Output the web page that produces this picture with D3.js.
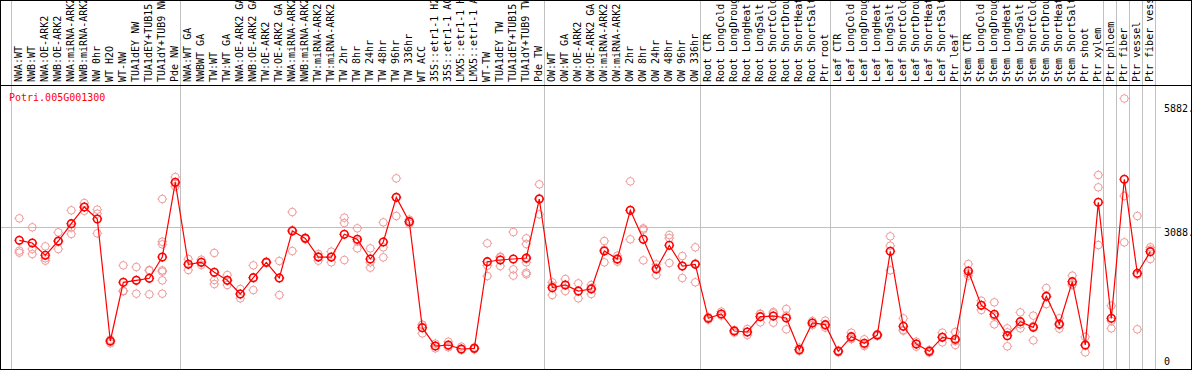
<!DOCTYPE html>
<html>
<head>
<meta charset="utf-8">
<script src="https://cdn.jsdelivr.net/npm/d3@7"></script>
<style>
  body { margin: 0; background: #fff; }
  text { font-family: "DejaVu Sans Mono", monospace; font-size: 10px; }
</style>
</head>
<body>
<div class="chart"></div>
<script>

var geneName = "Potri.005G001300";

var categories = [
  "NWA:WT", "NWB:WT", "NWA:OE-ARK2", "NWB:OE-ARK2", "NWA:miRNA-ARK2", "NWB:miRNA-ARK2",
  "NW 0hr", "WT H2O", "WT-NW", "TUA1dEY NW", "TUA1dEY+TUB15 NW", "TUA1dY+TUB9 NW", "Pde NW",
  "NWA:WT GA", "NWBWT GA", "TW:WT", "TW:WT GA", "NWA:OE-ARK2 GA", "NWB:OE-ARK2 GA",
  "TW:OE-ARK2", "TW:OE-ARK2 GA", "NWA:miRNA-ARK2 GA", "NWB:miRNA-ARK2 GA", "TW:miRNA-ARK2",
  "TW:miRNA-ARK2 GA", "TW 2hr", "TW 8hr", "TW 24hr", "TW 48hr", "TW 96hr", "TW 336hr",
  "WT ACC", "35S::etr1-1 H2O", "35S::etr1-1 ACC", "LMX5::etr1-1 H2O", "LMX5::etr1-1 ACC",
  "WT-TW", "TUA1dEY TW", "TUA1dEY+TUB15 TW", "TUA1dY+TUB9 TW", "Pde TW",
  "OW:WT", "OW:WT GA", "OW:OE-ARK2", "OW:OE-ARK2 GA", "OW:miRNA-ARK2", "OW:miRNA-ARK2 GA",
  "OW 2hr", "OW 8hr", "OW 24hr", "OW 48hr", "OW 96hr", "OW 336hr",
  "Root CTR", "Root LongCold", "Root LongDrought", "Root LongHeat", "Root LongSalt",
  "Root ShortCold", "Root ShortDrought", "Root ShortHeat", "Root ShortSalt", "Ptr root",
  "Leaf CTR", "Leaf LongCold", "Leaf LongDrought", "Leaf LongHeat", "Leaf LongSalt",
  "Leaf ShortCold", "Leaf ShortDrought", "Leaf ShortHeat", "Leaf ShortSalt", "Ptr leaf",
  "Stem CTR", "Stem LongCold", "Stem LongDrought", "Stem LongHeat", "Stem LongSalt",
  "Stem ShortCold", "Stem ShortDrought", "Stem ShortHeat", "Stem ShortSalt", "Ptr shoot",
  "Ptr xylem", "Ptr phloem", "Ptr fiber", "Ptr vessel", "Ptr fiber vessel"
];

// first category of each block (last entry = end of the last block)
var groupStarts = [0, 13, 41, 53, 63, 73, 84, 85, 86, 87, 88];

var means = [
  2798, 2740, 2472, 2783, 3160, 3523, 3262, 609, 1885, 1928, 1972, 2435, 4059,
  2276, 2320, 2102, 1928, 1631, 1986, 2320, 1979, 3001, 2841, 2435, 2435, 2929, 2820,
  2392, 2762, 3733, 3204, 899, 500, 522, 435, 449, 2334, 2370, 2392, 2414, 3697,
  1769, 1827, 1696, 1740, 2566, 2392, 3450, 2820, 2175, 2689, 2240, 2276,
  1102, 1196, 826, 805, 1138, 1152, 1109, 420, 1000, 964,
  384, 703, 558, 739, 2559, 928, 543, 384, 689, 645,
  2131, 1384, 1189, 725, 1029, 906, 1580, 978, 1899, 522, 3624,
  1102, 4125, 2080, 2552
];

var replicates = [
  [3276, 2573, 2530], [3081, 2609, 2501], [2667, 2407, 2356], [2972, 2768, 2609],
  [3450, 3073, 2936], [3610, 3520, 3440], [3465, 3378, 2950], [638, 594, 560],
  [2254, 1700, 1690], [2218, 1928, 1638], [2153, 2139, 1624],
  [3697, 2769, 2711, 2146, 2117, 1928, 1638], [4175, 4030, 3972],
  [2392, 2283, 2153], [2377, 2320, 2262], [2523, 1935, 1848], [2044, 1928, 1827],
  [1740, 1631, 1537], [2254, 1986, 1718], [2335, 2320, 2305], [2349, 1979, 1609],
  [3414, 3023, 2566], [2860, 2841, 2822], [2501, 2448, 2356], [2552, 2433, 2320],
  [3291, 3175, 2370], [3059, 2777, 2624], [2624, 2320, 2204], [3189, 2646, 2428],
  [4146, 3726, 3327], [3247, 3204, 3160], [957, 965, 775], [551, 500, 449],
  [594, 500, 472], [485, 435, 413], [470, 449, 428], [2733, 2247, 2022],
  [2443, 2427, 2240], [2979, 2167, 2030], [2841, 2718, 2392, 2320, 2095, 2059],
  [4016, 3712, 3363],
  [1885, 1813, 1609], [1957, 1827, 1696], [1863, 1688, 1537], [1827, 1762, 1631],
  [2783, 2595, 2320], [2465, 2377, 2334], [4081, 3450, 2820], [3059, 3030, 2363],
  [2276, 2204, 2044], [2914, 2848, 2305], [2457, 2240, 1979], [2646, 2297, 1885],
  [1131, 1102, 1073], [1247, 1196, 1160], [848, 826, 790], [870, 805, 739],
  [1203, 1196, 1015], [1239, 1210, 1007], [1305, 1160, 863], [464, 420, 391],
  [1044, 1000, 957], [1051, 942, 899],
  [406, 384, 362], [790, 667, 652], [645, 529, 500], [761, 739, 717],
  [2885, 2682, 2146], [1102, 848, 833], [594, 550, 485], [413, 384, 355],
  [790, 697, 580], [805, 609, 522],
  [2283, 2080, 2030], [1486, 1384, 1283], [1450, 1146, 971], [884, 798, 493],
  [1232, 971, 884], [1160, 935, 623], [1761, 1566, 1413], [1102, 957, 877],
  [2030, 1842, 1827], [696, 508, 362], [4219, 3951, 2696],
  [1377, 1045, 884], [5882, 3762, 2754], [3327, 2050, 863], [2646, 2595, 2392]
];

var tickValues = [5882, 3088, 0];
var tickLabels = ["5882.", "3088.", "0"];
var tickOffsets = [13, 8.5, -4];

var width = 1194, height = 370;
var plotTop = 85, plotBottom = 369;

var svg = d3.select(".chart").append("svg")
    .attr("width", width)
    .attr("height", height);

var x = d3.scaleLinear()
    .domain([0, categories.length - 1])
    .range([19.3, 1150.3]);

var y = d3.scaleLinear()
    .domain([0, d3.max(replicates, function(r){ return d3.max(r); }) * 1.05])
    .range([plotBottom, plotTop]);

var grey = "#c0c0c0";

// block separators
svg.selectAll(".sep")
    .data(groupStarts)
  .enter().append("line")
    .attr("x1", function(d){ return Math.round(x(d) - 8) + 0.5; })
    .attr("x2", function(d){ return Math.round(x(d) - 8) + 0.5; })
    .attr("y1", 0)
    .attr("y2", plotBottom)
    .style("stroke", grey);

// middle grid line
svg.append("line")
    .attr("x1", 1).attr("x2", 1161)
    .attr("y1", Math.round(y(tickValues[1])) + 0.5)
    .attr("y2", Math.round(y(tickValues[1])) + 0.5)
    .style("stroke", grey);

// frame
svg.append("rect")
    .attr("x", 0.5).attr("y", 0.5)
    .attr("width", 1191).attr("height", plotBottom)
    .style("fill", "none").style("stroke", "black");
svg.append("line")
    .attr("x1", 0).attr("x2", 1192)
    .attr("y1", plotTop + 0.5).attr("y2", plotTop + 0.5)
    .style("stroke", "black");

// category labels (rotated, long ones run off the top like the original)
svg.selectAll(".cat")
    .data(categories)
  .enter().append("text")
    .attr("class", "cat")
    .attr("transform", function(d, i){ return "translate(" + (x(i) + 3) + ",82) rotate(-90)"; })
    .text(function(d){ return d; });

// y labels
svg.selectAll(".tick")
    .data(tickValues)
  .enter().append("text")
    .attr("x", 1164)
    .attr("y", function(d, i){ return y(d) + tickOffsets[i]; })
    .text(function(d, i){ return tickLabels[i]; });

svg.append("text")
    .attr("x", 9).attr("y", 101)
    .style("fill", "red")
    .text(geneName);

function marker(g, cx, cy, color, sw){
  var m = g.append("g").attr("transform", "translate(" + cx + "," + cy + ")");
  m.append("circle").attr("r", 3.8)
      .style("fill", "none").style("stroke", color).style("stroke-width", sw);
  [[0, -1], [0, 1], [-1, 0], [1, 0]].forEach(function(v){
    m.append("line")
        .attr("x1", v[0] * 3.8).attr("y1", v[1] * 3.8)
        .attr("x2", v[0] * 4.9).attr("y2", v[1] * 4.9)
        .style("stroke", color).style("stroke-width", 1);
  });
}

var repG = svg.append("g");
replicates.forEach(function(r, i){
  r.forEach(function(v){ marker(repG, x(i), y(v), "#f09a9a", 1); });
});

var line = d3.line()
    .x(function(d, i){ return x(i); })
    .y(function(d){ return y(d); });

svg.append("path")
    .datum(means)
    .attr("d", line)
    .style("fill", "none")
    .style("stroke", "red")
    .style("stroke-width", 1.2);

var meanG = svg.append("g");
means.forEach(function(v, i){ marker(meanG, x(i), y(v), "red", 1.6); });

</script>
</body>
</html>
